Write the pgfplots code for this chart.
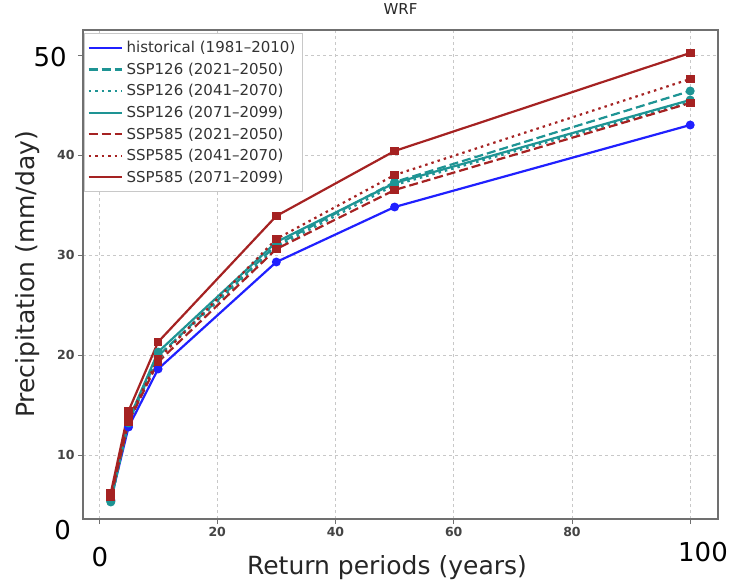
\documentclass[border=0pt]{standalone}
\usepackage{fontspec}
\setmainfont{DejaVu Sans}
\usepackage{pgfplots}
\pgfplotsset{compat=1.18}
\definecolor{histblue}{HTML}{2020FF}
\definecolor{sspteal}{HTML}{1E9494}
\definecolor{sspred}{HTML}{A52222}
\definecolor{gridgray}{HTML}{C8C8C8}
\definecolor{framegray}{HTML}{707070}
\definecolor{ticktext}{HTML}{444444}

\begin{document}
\begin{tikzpicture}
\begin{axis}[
    name=ax,
    scale only axis,
    width=635pt, height=489pt,
    xmin=-2.7, xmax=104.7,
    ymin=3.6, ymax=52.5,
    clip=false,
    axis line style={framegray, line width=1.3pt},
    tick pos=left,
    tick align=outside,
    major tick length=5pt,
    tick style={framegray, line width=0.8pt},
    xtick={0,20,40,60,80,100},
    xticklabels={,20,40,60,80,},
    ytick={10,20,30,40,50},
    yticklabels={10,20,30,40,},
    ticklabel style={font=\fontsize{12.5}{14}\selectfont\bfseries, text=ticktext},
    /pgf/number format/assume math mode=true,
    grid=major,
    major grid style={gridgray, line width=0.8pt, dash pattern=on 3pt off 3pt},
    title={WRF},
    title style={at={(0.5,1.0204)}, anchor=base, font=\fontsize{15}{18}\selectfont, text=black!85},
    xlabel={Return periods (years)},
    xlabel style={at={(0.4787,-0.1145)}, anchor=base, font=\fontsize{25}{30}\selectfont, text=black!85},
    ylabel={Precipitation (mm/day)},
    ylabel style={at={(-0.0756,0.5)}, anchor=base, font=\fontsize{25}{30}\selectfont, text=black!85},
    legend style={at={(rel axis cs:0,1)}, anchor=north west, xshift=1pt, yshift=-3pt,
        draw=gridgray, line width=0.8pt, fill=white,
        font=\fontsize{15}{18}\selectfont, text=black!80,
        row sep=4.7pt, inner xsep=3pt, inner ysep=6pt,
        nodes={inner ysep=2pt, inner xsep=4pt}},
    legend cell align=left,
    legend image code/.code={\draw[#1,mark=none,line width=2.2pt] (0pt,0pt) -- (33pt,0pt);},
    every axis plot/.append style={line width=2.2pt, mark size=3.3pt, mark options={solid}},
]
\addplot[histblue, mark=*] coordinates {(2,5.5) (5,12.8) (10,18.6) (30,29.3) (50,34.8) (100,43.0)};
\addlegendentry{historical (1981--2010)}
\addplot[sspteal, mark=*, dash pattern=on 9pt off 4pt] coordinates {(2,5.4) (5,13.3) (10,19.9) (30,31.0) (50,37.3) (100,46.4)};
\addlegendentry{SSP126 (2021--2050)}
\addplot[sspteal, mark=*, dash pattern=on 2.5pt off 4pt] coordinates {(2,5.3) (5,13.2) (10,19.8) (30,30.8) (50,37.0) (100,45.3)};
\addlegendentry{SSP126 (2041--2070)}
\addplot[sspteal, mark=*] coordinates {(2,5.4) (5,13.5) (10,20.3) (30,31.3) (50,37.2) (100,45.5)};
\addlegendentry{SSP126 (2071--2099)}
\addplot[sspred, mark=square*, dash pattern=on 9pt off 4pt] coordinates {(2,5.8) (5,13.3) (10,19.3) (30,30.6) (50,36.5) (100,45.2)};
\addlegendentry{SSP585 (2021--2050)}
\addplot[sspred, mark=square*, dash pattern=on 2.5pt off 4pt] coordinates {(2,5.9) (5,13.6) (10,19.6) (30,31.6) (50,38.0) (100,47.6)};
\addlegendentry{SSP585 (2041--2070)}
\addplot[sspred, mark=square*] coordinates {(2,6.2) (5,14.4) (10,21.3) (30,33.9) (50,40.4) (100,50.2)};
\addlegendentry{SSP585 (2071--2099)}

% large overlaid axis numbers
\node[anchor=east, inner sep=0pt, font=\fontsize{26}{30}\selectfont] at (rel axis cs:-0.0252,0.9448) {50};
\node[anchor=east, inner sep=0pt, font=\fontsize{26}{30}\selectfont] at (rel axis cs:-0.0189,-0.0225) {0};
\node[inner sep=0pt, font=\fontsize{26}{30}\selectfont] at (rel axis cs:0.0268,-0.0777) {0};
\node[inner sep=0pt, font=\fontsize{26}{30}\selectfont] at (rel axis cs:0.9764,-0.0675) {100};
\end{axis}
\pgfresetboundingbox
\path[use as bounding box] ([shift={(-83pt,-63pt)}]ax.south west) rectangle ([shift={(17pt,30pt)}]ax.north east);
\end{tikzpicture}
\end{document}
